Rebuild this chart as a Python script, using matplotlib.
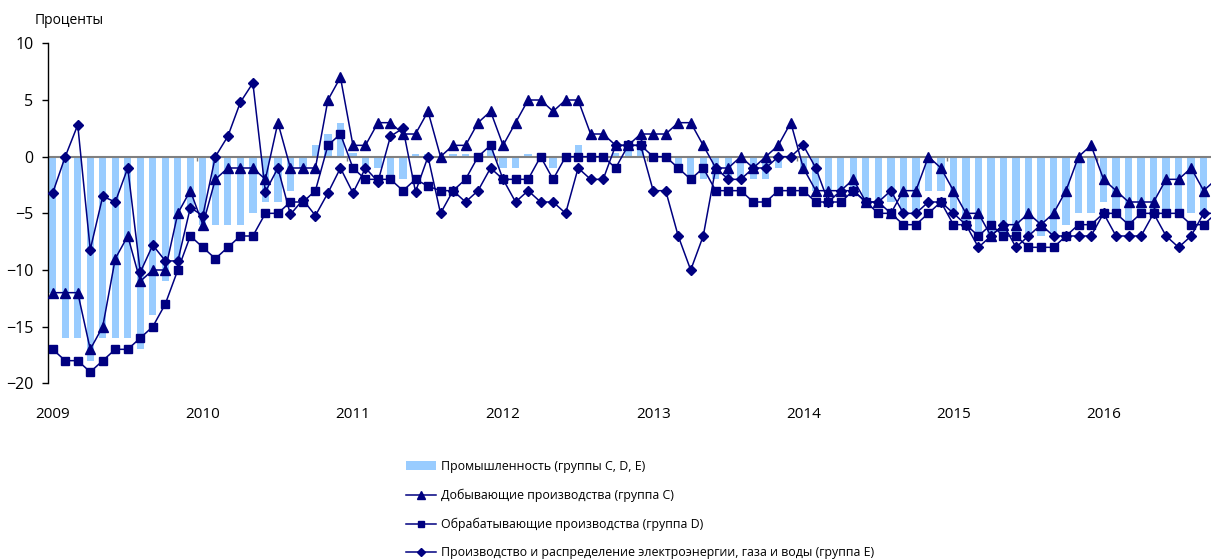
import matplotlib
matplotlib.use("Agg")
import matplotlib.pyplot as plt
import numpy as np

plt.rcParams['font.family'] = ['Open Sans', 'DejaVu Sans']

years = ['2009', '2010', '2011', '2012', '2013', '2014', '2015', '2016']

# monthly values, Jan 2009 - Oct 2016, percent
industry = [-12, -16, -16, -18, -16, -16, -16, -17, -14, -11, -9, -5,
            -6, -6, -6, -6, -5, -4, -4, -3, -1, 1, 2, 3,
            0.3, -1, -1, -2, -2, 0.2, 0.2, 0, 0.2, 0.2, 0, 1,
            -1, -1, 0.2, 0, -1, 0, 1, 0, 0, 0.3, 1, 1,
            0, 0, -1, -2, -2, -2, -2, -2, -2, -2, -1, 0,
            -1, -3, -3, -3, -3, -4, -4, -4, -5, -5, -3, -3,
            -5, -6, -7, -7, -7, -7, -7, -7, -7, -6, -5, -5,
            -4, -5, -6, -5, -5, -5, -5, -5, -5, -5]

mining = [-12, -12, -12, -17, -15, -9, -7, -11, -10, -10, -5, -3,
          -6, -2, -1, -1, -1, -2, 3, -1, -1, -1, 5, 7,
          1, 1, 3, 3, 2, 2, 4, 0, 1, 1, 3, 4,
          1, 3, 5, 5, 4, 5, 5, 2, 2, 1, 1, 2,
          2, 2, 3, 3, 1, -1, -1, 0, -1, 0, 1, 3,
          -1, -3, -3, -3, -2, -4, -4, -5, -3, -3, 0, -1,
          -3, -5, -5, -7, -6, -6, -5, -6, -5, -3, 0, 1,
          -2, -3, -4, -4, -4, -2, -2, -1, -3, -2]

manufacturing = [-17, -18, -18, -19, -18, -17, -17, -16, -15, -13, -10, -7,
                 -8, -9, -8, -7, -7, -5, -5, -4, -4, -3, 1, 2,
                 -1, -2, -2, -2, -3, -2, -2.6, -3, -3, -2, 0, 1,
                 -2, -2, -2, 0, -2, 0, 0, 0, 0, -1, 1, 1,
                 0, 0, -1, -2, -1, -3, -3, -3, -4, -4, -3, -3,
                 -3, -4, -4, -4, -3, -4, -5, -5, -6, -6, -5, -4,
                 -6, -6, -7, -6, -7, -7, -8, -8, -8, -7, -6, -6,
                 -5, -5, -6, -5, -5, -5, -5, -6, -6, -5]

utilities = [-3.2, 0, 2.8, -8.2, -3.5, -4, -1, -10.2, -7.8, -9.2, -9.2, -4.5,
             -5.2, 0, 1.8, 4.8, 6.5, -3.1, -1, -5.1, -3.8, -5.2, -3.2, -1,
             -3.2, -1, -2.2, 1.8, 2.5, -3.1, 0, -5, -3, -4, -3, -1,
             -2, -4, -3, -4, -4, -5, -1, -2, -2, 1, 1, 1,
             -3, -3, -7, -10, -7, -1, -2, -2, -1, -1, 0, 0,
             1, -1, -4, -3, -3, -4, -4, -3, -5, -5, -4, -4,
             -5, -6, -8, -7, -6, -8, -7, -6, -7, -7, -7, -7,
             -5, -7, -7, -7, -5, -7, -8, -7, -5, -5]

labels = ['Промышленность (группы C, D, E)',
          'Добывающие производства (группа C)',
          'Обрабатывающие производства (группа D)',
          'Производство и распределение электроэнергии, газа и воды (группа E)']

navy = '#000080'
x = np.arange(len(industry))

fig = plt.figure(figsize=(12.11, 5.6), dpi=100)
ax = fig.add_axes([0.0394, 0.3155, 0.9606, 0.6071])

bars = ax.bar(x, industry, width=0.58, color='#99ccff', zorder=1)
ax.axhline(0, color='#808080', lw=1.5, zorder=2)
ax.vlines(np.arange(11.5, len(x), 12), -0.38, 0, color='#808080', lw=1, zorder=2)

l1, = ax.plot(x, mining, color=navy, lw=1.1, marker='^', ms=7, zorder=3)
l2, = ax.plot(x, manufacturing, color=navy, lw=1.1, marker='s', ms=6, zorder=3)
l3, = ax.plot(x, utilities, color=navy, lw=1.1, marker='D', ms=5, zorder=3)

ax.set_xlim(-0.40, 92.59)
ax.set_ylim(-20, 10)
ax.set_yticks(np.arange(-20, 11, 5))
ax.set_xticks(x[::12])
ax.set_xticklabels(years)
ax.tick_params(axis='x', length=0, pad=17, labelsize=11)
ax.tick_params(axis='y', direction='out', length=4.3, width=1, pad=6, labelsize=11.5)

for side in ['top', 'right', 'bottom']:
    ax.spines[side].set_visible(False)
ax.spines['left'].set_linewidth(1)

fig.text(35 / 1211, 1 - 20 / 560, 'Проценты', fontsize=10, va='center', ha='left')

ax.legend(handles=[bars, l1, l2, l3], labels=labels, loc='upper left',
          bbox_to_anchor=(406 / 1211, 1 - 460 / 560), bbox_transform=fig.transFigure,
          frameon=False, fontsize=8.9, borderpad=0, borderaxespad=0,
          handlelength=2.4, handletextpad=0.4, labelspacing=1.26,
          numpoints=1, markerscale=0.75)

fig.savefig('out.png', dpi=100)
